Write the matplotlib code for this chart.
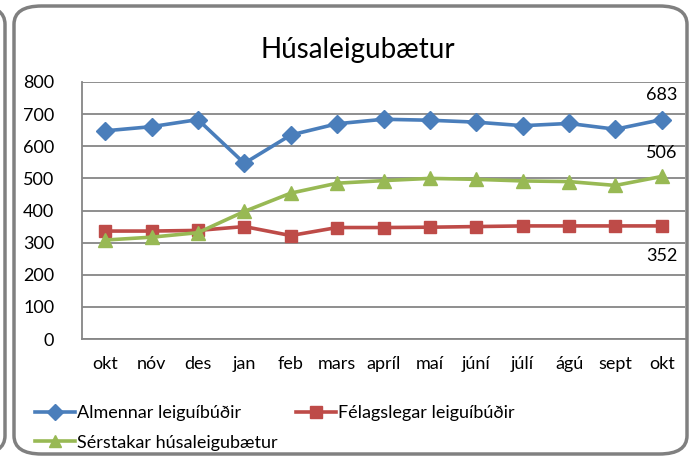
import matplotlib.pyplot as plt
from matplotlib.patches import FancyBboxPatch
from matplotlib.lines import Line2D

plt.rcParams['font.family'] = ['Lato', 'DejaVu Sans']

months = ['okt', 'nóv', 'des', 'jan', 'feb', 'mars', 'apríl', 'maí',
          'júní', 'júlí', 'ágú', 'sept', 'okt']
almennar = [648, 661, 683, 547, 635, 670, 684, 681, 675, 664, 671, 653, 683]
felagslegar = [336, 336, 338, 350, 322, 347, 347, 348, 350, 352, 352, 352, 352]
serstakar = [308, 317, 331, 397, 454, 485, 493, 500, 497, 492, 490, 478, 506]

c_blue = '#4a7ebb'
c_red = '#be4b48'
c_green = '#98b954'
c_grid = '#868686'

fig = plt.figure(figsize=(6.91, 4.58), dpi=100)

# outer rounded frames
frame = FancyBboxPatch((14 / 691, 4 / 458), 673 / 691, 448 / 458,
                       boxstyle='round,pad=0,rounding_size=0.04',
                       transform=fig.transFigure, facecolor='none',
                       edgecolor='#808080', linewidth=2.5, zorder=0)
fig.patches.append(frame)
left_frame = FancyBboxPatch((-40 / 691, 4 / 458), 45 / 691, 448 / 458,
                            boxstyle='round,pad=0,rounding_size=0.04',
                            transform=fig.transFigure, facecolor='none',
                            edgecolor='#808080', linewidth=2.5, zorder=0)
fig.patches.append(left_frame)

ax = fig.add_axes([82 / 691, 1 - 339 / 458, 603 / 691, 257 / 458])
x = range(len(months))
ax.plot(x, almennar, color=c_blue, lw=2.6, marker='D', ms=9, zorder=3)
ax.plot(x, felagslegar, color=c_red, lw=2.6, marker='s', ms=9, zorder=3)
ax.plot(x, serstakar, color=c_green, lw=2.6, marker='^', ms=10, zorder=3)

ax.set_xlim(-0.5, len(months) - 0.5)
ax.set_ylim(0, 800)
ax.set_yticks(range(0, 801, 100))
ax.set_xticks(list(x))
ax.set_xticklabels(months)
ax.yaxis.grid(True, color=c_grid, lw=1.3)
ax.set_axisbelow(True)
ax.tick_params(length=0, labelsize=13, colors='black')
ax.tick_params(axis='y', pad=20)
ax.tick_params(axis='x', pad=12)
for s in ['top', 'right']:
    ax.spines[s].set_visible(False)
for s in ['left', 'bottom']:
    ax.spines[s].set_color(c_grid)
    ax.spines[s].set_linewidth(1.3)

last = len(months) - 1
ax.annotate(str(almennar[-1]), (last, almennar[-1]), xytext=(0, 12),
            textcoords='offset points', ha='center', va='bottom', fontsize=13)
ax.annotate(str(serstakar[-1]), (last, serstakar[-1]), xytext=(0, 11),
            textcoords='offset points', ha='center', va='bottom', fontsize=13)
ax.annotate(str(felagslegar[-1]), (last, felagslegar[-1]), xytext=(0, -16),
            textcoords='offset points', ha='center', va='top', fontsize=13)

fig.text(358 / 691, 1 - 50 / 458, 'Húsaleigubætur', ha='center', va='center',
         fontsize=20)

# legend: excel-style, second entry sits right of the first on row 1
h_blue = Line2D([], [], color=c_blue, lw=2.6, marker='D', ms=8)
h_red = Line2D([], [], color=c_red, lw=2.6, marker='s', ms=9)
h_green = Line2D([], [], color=c_green, lw=2.6, marker='^', ms=9)
leg_kw = dict(loc='upper left', frameon=False, fontsize=13, borderpad=0,
              borderaxespad=0, handlelength=2.2, handletextpad=0.15,
              labelspacing=0.75)
fig.legend([h_blue, h_green],
           ['Almennar leiguíbúðir', 'Sérstakar húsaleigubætur'],
           bbox_to_anchor=(35 / 691, 1 - 405 / 458), **leg_kw)
fig.legend([h_red], ['Félagslegar leiguíbúðir'],
           bbox_to_anchor=(296 / 691, 1 - 405 / 458), **leg_kw)

fig.savefig('out.png', dpi=100)
